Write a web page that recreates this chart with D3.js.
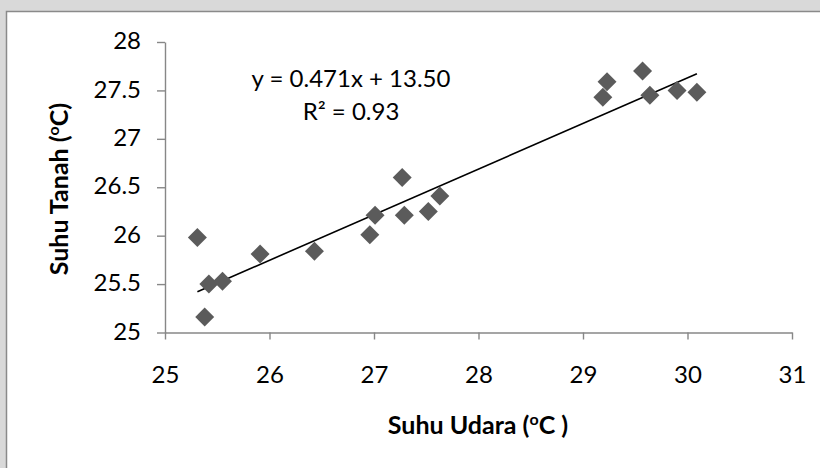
<!DOCTYPE html>
<html>
<head>
<meta charset="utf-8">
<script src="https://cdn.jsdelivr.net/npm/d3@7"></script>
<style>
  html, body { margin: 0; padding: 0; background: #d9d9d9; }
  svg { display: block; }
</style>
</head>
<body>
<svg id="chart" width="820" height="468"></svg>
<script>
// Air temperature (x) vs soil temperature (y), °C
const suhuUdara = [25.31, 25.38, 25.42, 25.55, 25.91, 26.43, 26.96, 27.01, 27.27, 27.29, 27.52, 27.63, 29.19, 29.23, 29.57, 29.64, 29.90, 30.09];
const suhuTanah = [25.98, 25.16, 25.50, 25.53, 25.81, 25.84, 26.01, 26.21, 26.60, 26.21, 26.25, 26.41, 27.43, 27.59, 27.70, 27.45, 27.50, 27.48];

// Linear trendline coefficients
const slope = 0.471;
const intercept = 13.50;
const rSquared = 0.93;

const xTicks = [25, 26, 27, 28, 29, 30, 31];
const yTicks = [25, 25.5, 26, 26.5, 27, 27.5, 28];

const font = "Lato, 'Open Sans', sans-serif";
const axisColor = "#878787";
const markColor = "#5b5b5b";

const svg = d3.select("#chart");

// chart frame
svg.append("rect")
  .attr("x", 6.5).attr("y", 11.5)
  .attr("width", 830).attr("height", 470)
  .attr("fill", "#ffffff")
  .attr("stroke", "#8a8a8a")
  .attr("stroke-width", 1.5);

const x = d3.scaleLinear().domain([25, 31]).range([165, 792]);
const y = d3.scaleLinear().domain([25, 28]).range([332.5, 42]);

// x axis
const gx = svg.append("g")
  .attr("transform", `translate(0,${y(25)})`)
  .call(d3.axisBottom(x).tickValues(xTicks).tickSize(7).tickSizeOuter(0).tickPadding(26)
    .tickFormat(d3.format("d")));

// y axis
const gy = svg.append("g")
  .attr("transform", `translate(${x(25)},0)`)
  .call(d3.axisLeft(y).tickValues(yTicks).tickSize(8).tickSizeOuter(0).tickPadding(16)
    .tickFormat(d => String(d)));
gy.selectAll(".tick text").attr("dy", "0.28em");

[gx, gy].forEach(g => {
  g.select(".domain").attr("stroke", axisColor).attr("stroke-width", 1.4);
  g.selectAll(".tick line").attr("stroke", axisColor).attr("stroke-width", 1.4);
  g.selectAll(".tick text")
    .attr("fill", "#000")
    .style("font-family", font)
    .style("font-size", "24px");
});

// trendline over the observed x range
const xMin = d3.min(suhuUdara), xMax = d3.max(suhuUdara);
svg.append("line")
  .attr("x1", x(xMin)).attr("y1", y(slope * xMin + intercept))
  .attr("x2", x(xMax)).attr("y2", y(slope * xMax + intercept))
  .attr("stroke", "#000")
  .attr("stroke-width", 1.6);

// diamond markers
const diamond = d3.symbol().type(d3.symbolSquare).size(180);
svg.append("g")
  .selectAll("path")
  .data(suhuUdara.map((v, i) => [v, suhuTanah[i]]))
  .join("path")
  .attr("d", diamond)
  .attr("transform", d => `translate(${x(d[0])},${y(d[1])}) rotate(45)`)
  .attr("fill", markColor);

// trendline equation
svg.append("text")
  .attr("x", 351).attr("y", 87)
  .attr("text-anchor", "middle")
  .style("font-family", font).style("font-size", "24px")
  .text(`y = ${slope.toFixed(3)}x + ${intercept.toFixed(2)}`);

svg.append("text")
  .attr("x", 351).attr("y", 120)
  .attr("text-anchor", "middle")
  .style("font-family", font).style("font-size", "24px")
  .text(`R² = ${rSquared.toFixed(2)}`);

// axis titles
const xt = svg.append("text")
  .attr("x", 478).attr("y", 434)
  .attr("text-anchor", "middle")
  .style("font-family", font).style("font-size", "25px").style("font-weight", "bold");
xt.append("tspan").text("Suhu Udara (");
xt.append("tspan").attr("dy", -9).style("font-size", "16px").text("o");
xt.append("tspan").attr("dy", 9).text("C )");

const yt = svg.append("text")
  .attr("transform", "translate(68,189) rotate(-90)")
  .attr("text-anchor", "middle")
  .style("font-family", font).style("font-size", "25px").style("font-weight", "bold");
yt.append("tspan").text("Suhu Tanah (");
yt.append("tspan").attr("dy", -9).style("font-size", "16px").text("o");
yt.append("tspan").attr("dy", 9).text("C)");
</script>
</body>
</html>
